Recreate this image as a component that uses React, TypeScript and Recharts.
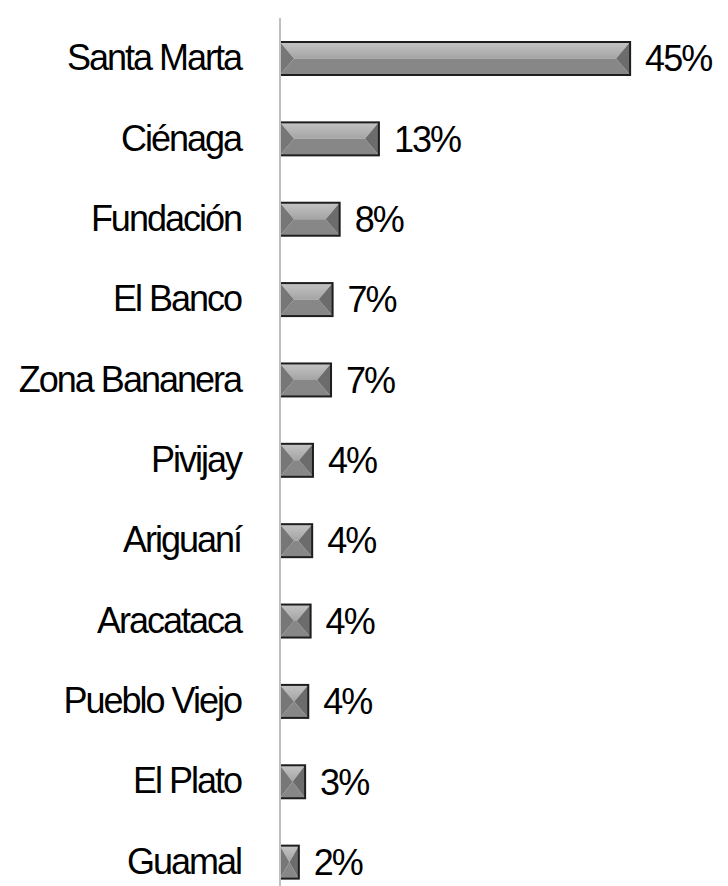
import React from 'react';
import { BarChart, Bar, XAxis, YAxis, LabelList } from 'recharts';

// Municipios y participación (%)
const MUNICIPIOS = [
	'Santa Marta',
	'Ciénaga',
	'Fundación',
	'El Banco',
	'Zona Bananera',
	'Pivijay',
	'Ariguaní',
	'Aracataca',
	'Pueblo Viejo',
	'El Plato',
	'Guamal',
];

const PORCENTAJES = [44.6, 12.6, 7.6, 6.7, 6.5, 4.2, 4.1, 3.9, 3.6, 3.2, 2.4];

const data = MUNICIPIOS.map((name, i) => ({ name, value: PORCENTAJES[i] }));

const FONT = '"Liberation Sans", Arial, sans-serif';

// Barra con efecto biselado
const BevelBar = (props: any) => {
	const { x, y, width, height } = props;
	if (!width || width <= 0) return null;
	const d = Math.min(14, height / 2, width / 2);
	const m = y + height / 2;
	const r = x + width;
	const b = y + height;
	return (
		<g>
			<polygon points={`${x},${y} ${r},${y} ${r - d},${m} ${x + d},${m}`} fill="url(#bevelTop)" />
			<polygon points={`${x},${b} ${r},${b} ${r - d},${m} ${x + d},${m}`} fill="#878787" />
			<polygon points={`${x},${y} ${x + d},${m} ${x},${b}`} fill="#777777" />
			<polygon points={`${r},${y} ${r - d},${m} ${r},${b}`} fill="#6c6c6c" />
			<rect x={x} y={y} width={width} height={height} fill="none" stroke="#1e1e1e" strokeWidth={2} />
		</g>
	);
};

const Tick = (props: any) => {
	const { x, y, payload } = props;
	return (
		<text
			x={x}
			y={y}
			dy={12}
			textAnchor="end"
			fill="#000"
			fontSize={36}
			fontFamily={FONT}
			letterSpacing={-2}
		>
			{payload.value}
		</text>
	);
};

export default function App() {
	return (
		<div style={{ height: 878, overflow: 'hidden' }}>
			<BarChart
				width={712}
				height={894}
				data={data}
				layout="vertical"
				margin={{ top: 10, right: 47.5, bottom: 0, left: 0 }}
			>
				<defs>
					<linearGradient id="bevelTop" x1="0" y1="0" x2="0" y2="1">
						<stop offset="0%" stopColor="#c4c4c4" />
						<stop offset="100%" stopColor="#a4a4a4" />
					</linearGradient>
				</defs>
				<XAxis type="number" domain={[0, 50]} hide />
				<YAxis
					type="category"
					dataKey="name"
					width={272}
					axisLine={{ stroke: '#bfbfbf', strokeWidth: 2 }}
					tickLine={false}
					tick={<Tick />}
					tickMargin={33}
					interval={0}
				/>
				<Bar dataKey="value" barSize={33} shape={<BevelBar />} isAnimationActive={false}>
					<LabelList
						dataKey="value"
						position="right"
						offset={15}
						formatter={(v: any) => `${Math.round(Number(v))}%`}
						fill="#000"
						fontSize={36}
						fontFamily={FONT}
						letterSpacing={-2}
					/>
				</Bar>
			</BarChart>
		</div>
	);
}
